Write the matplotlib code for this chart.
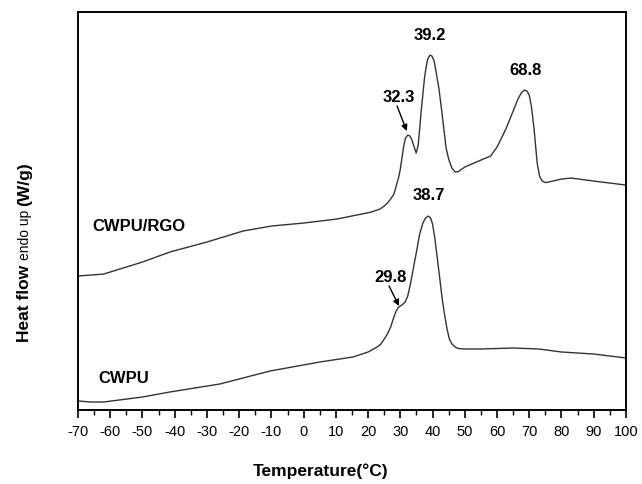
import matplotlib
matplotlib.use("Agg")
import matplotlib.pyplot as plt

plt.rcParams['font.family'] = ['Liberation Sans', 'DejaVu Sans']
plt.rcParams['axes.unicode_minus'] = False

# ── DSC traces (arbitrary heat-flow units, endo up) ──────────────────
temp_rgo = [-70, -66, -62, -56, -50, -41.5, -30, -18.8, -10, 0, 10.3, 18, 21, 23.7, 25, 26,
            27, 28, 28.8, 29.5, 30, 30.5, 31, 31.6, 32.3, 33, 33.5, 34.2, 34.9, 35.5, 36,
            36.5, 37, 37.5, 38, 38.5, 39.2, 39.8, 40.5, 41, 42, 43, 43.5, 44.2, 45, 46, 47,
            48, 50, 55, 58, 60, 62, 63, 64.5, 65.5, 66.5, 67.5, 68.5, 69.3, 70, 70.7,
            71.5, 72, 72.5, 73.2, 74, 75, 76, 80, 83, 90, 100]
hf_rgo = [134, 135, 136, 142, 148, 158, 168, 179, 184, 187, 191, 196, 198, 201, 204, 207,
          211, 216, 225, 233, 241, 252, 263, 272, 275, 274, 271, 264, 257, 264, 281,
          300, 316, 332, 343, 351, 355, 354, 349, 340, 321, 295, 281, 262, 251, 242, 238,
          238.5, 243, 250, 254, 263, 276, 283, 295, 303, 311, 317, 320, 319, 315, 303,
          281, 263, 246, 234, 229, 227.5, 228, 231, 232, 229, 225]

temp_cwpu = [-70, -66, -62, -50, -41.5, -26, -10.4, 5, 15.3, 20, 22.8, 24, 25, 26, 27, 28,
             28.7, 29.5, 30.5, 31.5, 32.3, 33.2, 34, 35, 36, 37, 37.8, 38.7, 39.4, 40,
             40.7, 41.5, 42.3, 43, 43.8, 44.5, 45.2, 46, 47, 48, 50, 55, 65, 73, 80, 90, 100]
hf_cwpu = [9, 8, 8, 13, 18, 26, 39, 48, 53, 58, 63, 66, 71, 76, 83, 93,
           99, 103, 105, 108, 114, 127, 141, 158, 176, 187, 192, 194, 192, 186,
           172, 151, 130, 111, 94, 81, 71, 66, 63, 61.5, 61, 61, 62, 61, 58, 56, 52]

# peak labels without arrows: (text, T, y)
peak_labels = [
    ("39.2", 39.2, 368),
    ("68.8", 68.8, 333),
    ("38.7", 38.7, 208),
]
# peak labels with arrows: (text, label T, label y, arrow tip T, arrow tip y)
arrow_labels = [
    ("32.3", 29.5, 306, 32.0, 279),
    ("29.8", 27.0, 126, 29.6, 104),
]


def main():
    fig = plt.figure(figsize=(6.42, 4.85), dpi=100)
    ax = fig.add_axes([0.1215, 0.1526, 0.8535, 0.8204])

    ax.plot(temp_rgo, hf_rgo, color="#333333", lw=1.0)
    ax.plot(temp_cwpu, hf_cwpu, color="#333333", lw=1.0)

    ax.set_xlim(-70, 100)
    ax.set_ylim(0, 398)
    ax.set_xticks(range(-70, 101, 10))
    ax.set_xticks(range(-65, 100, 10), minor=True)
    ax.set_yticks([])
    ax.tick_params(axis="x", which="major", direction="out", length=6, width=1.2,
                   labelsize=10.5, pad=4)
    ax.tick_params(axis="x", which="minor", direction="out", length=3.5, width=1.0)
    for sp in ax.spines.values():
        sp.set_linewidth(1.4)

    for txt, tx, ty in peak_labels:
        ax.text(tx, ty, txt, ha="center", va="bottom", fontsize=12, fontweight="bold")
    for txt, tx, ty, ax_t, ax_y in arrow_labels:
        ax.text(tx, ty, txt, ha="center", va="bottom", fontsize=12, fontweight="bold")
        ax.annotate("", xy=(ax_t, ax_y), xytext=(tx - 0.5, ty - 2),
                    arrowprops=dict(arrowstyle="-|>", color="black", lw=1.0,
                                    mutation_scale=9, shrinkA=0, shrinkB=0))

    ax.text(-65.5, 185, "CWPU/RGO", ha="left", va="center", fontsize=12, fontweight="bold")
    ax.text(-63.8, 32, "CWPU", ha="left", va="center", fontsize=12, fontweight="bold")

    fig.text(0.5, 0.028, "Temperature(°C)", ha="center", va="center",
             fontsize=12.5, fontweight="bold")

    # y label with mixed sizes: "Heat flow" + " endo up " + "(W/g)"
    fig.canvas.draw()
    renderer = fig.canvas.get_renderer()
    base_x = 29 / 642
    y0 = (485 - 342) / 485
    parts = [("Heat flow ", 12.5, "bold"), ("endo up ", 10, "normal"), ("(W/g)", 12.5, "bold")]
    for s, size, weight in parts:
        t = fig.text(base_x, y0, s, rotation=90, rotation_mode="anchor",
                     ha="left", va="baseline", fontsize=size, fontweight=weight)
        bb = t.get_window_extent(renderer)
        y0 += bb.height / fig.bbox.height

    fig.savefig("out.png", dpi=100)
    plt.close(fig)


if __name__ == "__main__":
    main()
